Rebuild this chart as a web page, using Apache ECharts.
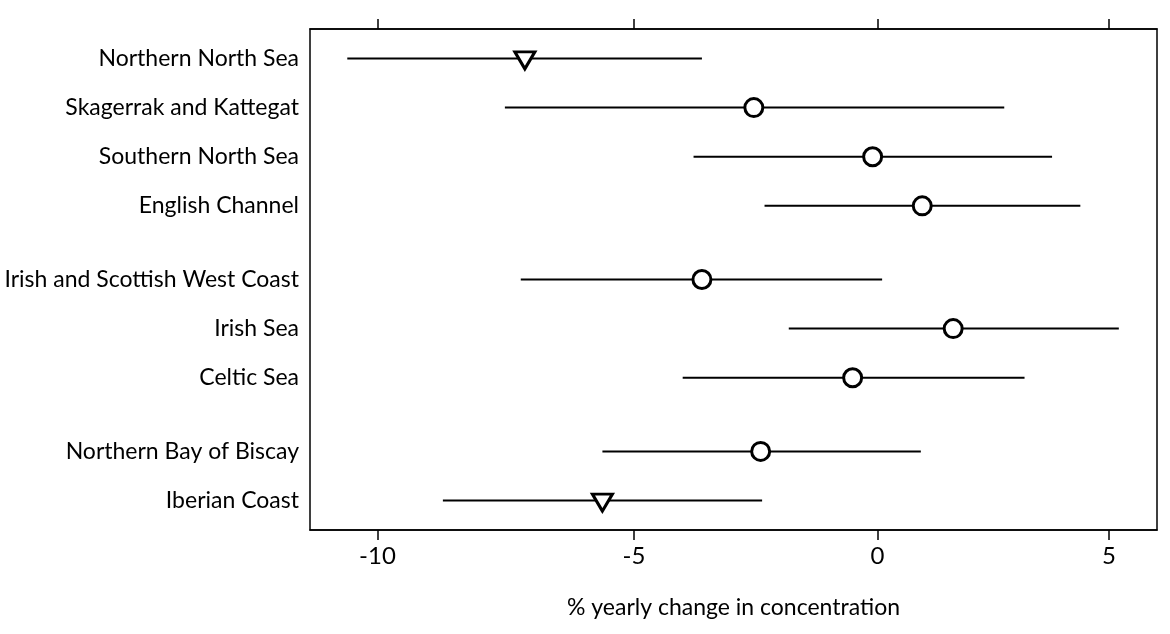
<!DOCTYPE html>
<html>
<head>
<meta charset="utf-8">
<script src="https://cdn.jsdelivr.net/npm/echarts@6/dist/echarts.min.js"></script>
<style>
html,body{margin:0;padding:0;background:#fff;}
#chart{width:1170px;height:634px;}
</style>
</head>
<body>
<div id="chart"></div>
<script>
// ---- data (percent yearly change) ----
const regions = [
  'Northern North Sea',
  'Skagerrak and Kattegat',
  'Southern North Sea',
  'English Channel',
  'Irish and Scottish West Coast',
  'Irish Sea',
  'Celtic Sea',
  'Northern Bay of Biscay',
  'Iberian Coast'
];
const regionGroup = [0, 0, 0, 0, 1, 1, 1, 2, 2];
const estimate = [-7.16, -2.57, -0.10, 0.95, -3.63, 1.61, -0.52, -2.43, -5.63];
const lower    = [-10.57, -7.55, -3.80, -2.35, -7.24, -1.85, -4.02, -5.63, -8.75];
const upper    = [-3.63, 2.71, 3.75, 4.37, 0.10, 5.22, 3.15, 0.92, -2.40];
const xTickLabels = [-10, -5, 0, 5];
const xRange = [-11.27, 6.07];

// ---- helpers ----
const toLog = p => Math.log(1 + p / 100);
const fromLog = v => (Math.exp(v) - 1) * 100;
const rowPos = regions.map((r, i) => i + regionGroup[i] * 0.5);
const tickVals = xTickLabels.map(toLog);
const FONT = 'Lato';

const barData = regions.map((r, i) => [toLog(lower[i]), toLog(upper[i]), rowPos[i]]);
const pointData = regions.map((r, i) => {
  const down = upper[i] < 0;
  return {
    value: [toLog(estimate[i]), rowPos[i]],
    symbol: down ? 'triangle' : 'circle',
    symbolRotate: down ? 180 : 0,
    symbolSize: down ? [20, 17] : 18,
    symbolOffset: down ? [0, 2] : [0, 0]
  };
});

const chart = echarts.init(document.getElementById('chart'), null, {renderer: 'canvas'});
chart.setOption({
  animation: false,
  backgroundColor: '#fff',
  grid: {
    left: 310, right: 13, top: 29, bottom: 104,
    show: true, borderColor: '#000', borderWidth: 1.5,
    containLabel: false, outerBoundsMode: 'none'
  },
  xAxis: [{
    type: 'value', position: 'bottom',
    min: toLog(xRange[0]), max: toLog(xRange[1]),
    axisLine: {show: true, onZero: false, lineStyle: {color: '#000', width: 1.5}},
    axisTick: {show: true, customValues: tickVals, length: 10, lineStyle: {color: '#000', width: 1.5}},
    axisLabel: {
      customValues: tickVals, margin: 14,
      formatter: v => String(Math.round(fromLog(v))),
      color: '#000', fontSize: 24, fontFamily: FONT
    },
    splitLine: {show: false},
    name: '% yearly change in concentration',
    nameLocation: 'middle', nameGap: 66,
    nameTextStyle: {color: '#000', fontSize: 23, fontFamily: FONT}
  }, {
    type: 'value', position: 'top',
    min: toLog(xRange[0]), max: toLog(xRange[1]),
    axisLine: {show: true, onZero: false, lineStyle: {color: '#000', width: 1.5}},
    axisTick: {show: true, customValues: tickVals, length: 10, lineStyle: {color: '#000', width: 1.5}},
    axisLabel: {show: false},
    splitLine: {show: false}
  }],
  yAxis: {
    type: 'value', inverse: true, min: -0.6, max: 9.6,
    axisLine: {show: false},
    axisTick: {show: false},
    splitLine: {show: false},
    axisLabel: {
      customValues: rowPos, margin: 11,
      formatter: v => {
        const i = rowPos.findIndex(p => Math.abs(p - v) < 1e-6);
        return i >= 0 ? regions[i] : '';
      },
      color: '#000', fontSize: 23, fontFamily: FONT
    }
  },
  series: [{
    type: 'custom',
    xAxisIndex: 0,
    data: barData,
    encode: {x: [0, 1], y: 2},
    renderItem: (params, api) => {
      const y = api.value(2);
      const a = api.coord([api.value(0), y]);
      const b = api.coord([api.value(1), y]);
      return {
        type: 'line',
        shape: {x1: a[0], y1: a[1], x2: b[0], y2: b[1]},
        style: {stroke: '#000', lineWidth: 2}
      };
    },
    z: 2
  }, {
    type: 'scatter',
    xAxisIndex: 0,
    data: pointData,
    itemStyle: {color: '#fff', borderColor: '#000', borderWidth: 3, opacity: 1},
    z: 3
  }]
});
</script>
</body>
</html>
